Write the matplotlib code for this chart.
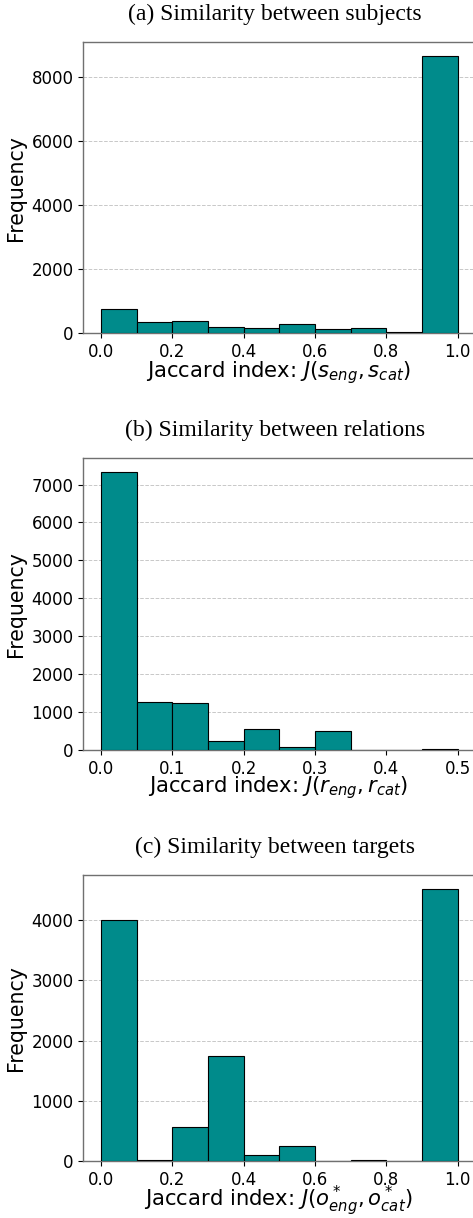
import numpy as np
import matplotlib
matplotlib.use('Agg')
import matplotlib.pyplot as plt

# histogram counts
edges_a  = [0.0, 0.1, 0.2, 0.3, 0.4, 0.5, 0.6, 0.7, 0.8, 0.9, 1.0]
counts_a = [760, 343, 395, 208, 156, 291, 125, 156, 31, 8653]

edges_b  = [0.0, 0.05, 0.10, 0.15, 0.20, 0.25, 0.30, 0.35, 0.40, 0.45, 0.50]
counts_b = [7325, 1256, 1229, 228, 562, 88, 509, 0, 5, 18]

edges_c  = [0.0, 0.1, 0.2, 0.3, 0.4, 0.5, 0.6, 0.7, 0.8, 0.9, 1.0]
counts_c = [3995, 22, 570, 1748, 100, 254, 5, 20, 0, 4521]

titles = ["(a) Similarity between subjects",
          "(b) Similarity between relations",
          "(c) Similarity between targets"]
xlabels = [r"Jaccard index: $J(s_{eng}, s_{cat})$",
           r"Jaccard index: $J(r_{eng}, r_{cat})$",
           r"Jaccard index: $J(o^*_{eng}, o^*_{cat})$"]

BAR = '#008B8B'
SPINE = '#707070'

W, H = 473, 1218
fig = plt.figure(figsize=(W / 100, H / 100), dpi=100)

# axes boxes in pixels: (top, bottom), title baselines, xlabel baselines
boxes = [(42, 333.3), (458.3, 750), (875, 1161)]
title_y = [20, 436, 852.7]
xlab_y = [377.3, 792.3, 1206.3]
left_px, right_px = 83.3, 475.5

data = [(edges_a, counts_a), (edges_b, counts_b), (edges_c, counts_c)]

for i, (edges, counts) in enumerate(data):
    top, bot = boxes[i]
    ax = fig.add_axes([left_px / W, 1 - bot / H,
                       (right_px - left_px) / W, (bot - top) / H])
    e = np.array(edges)
    ax.bar(e[:-1], counts, width=np.diff(e), align='edge',
           color=BAR, edgecolor='black', linewidth=0.8, zorder=3)
    ax.grid(axis='y', linestyle='--', color='#c8c8c8', linewidth=0.7, zorder=0)
    ax.set_ylabel("Frequency", fontsize=14.8)
    ax.set_xlabel(xlabels[i], fontsize=15.2, va='baseline')
    ax.xaxis.set_label_coords((278.3 - left_px) / (right_px - left_px),
                              -(xlab_y[i] - bot) / (bot - top))
    ax.tick_params(labelsize=12)
    for s in ax.spines.values():
        s.set_edgecolor(SPINE)
        s.set_linewidth(1.0)
    fig.text(274.7 / W, 1 - title_y[i] / H, titles[i], ha='center',
             va='baseline', fontsize=17, family='Liberation Serif')

fig.savefig('out.png', dpi=100)
